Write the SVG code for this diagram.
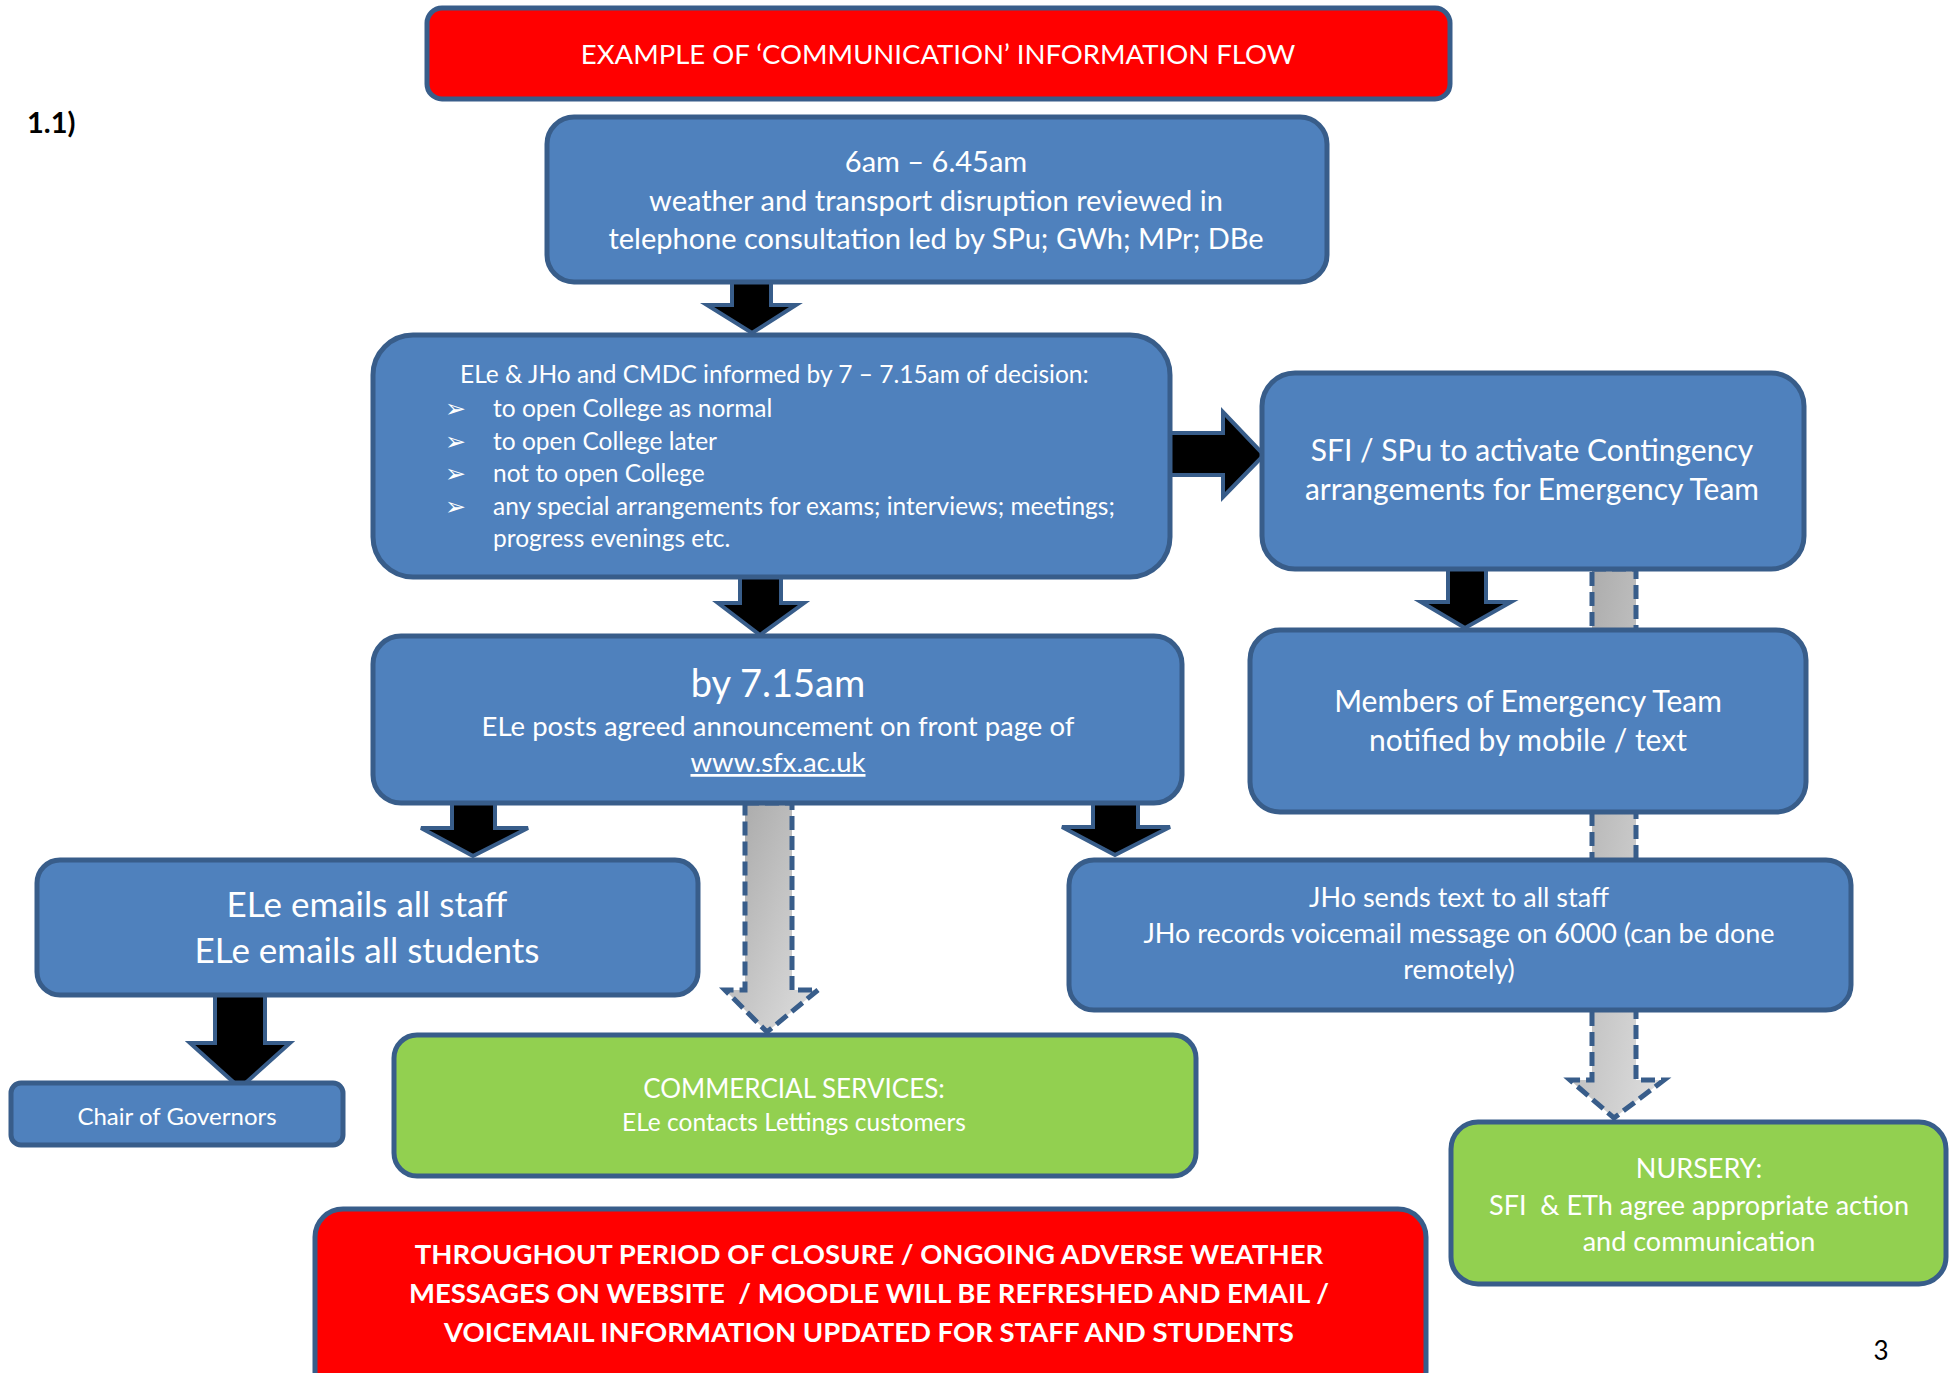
<svg xmlns="http://www.w3.org/2000/svg" width="1951" height="1373" viewBox="0 0 1951 1373">
<defs>
<style>
.box{fill:#4f81bd;stroke:#385d8a;stroke-width:5}
.green{fill:#92d050;stroke:#385d8a;stroke-width:5}
.red{fill:#ff0000;stroke:#385d8a;stroke-width:5}
.arr{fill:#000;stroke:#385d8a;stroke-width:4;stroke-linejoin:miter}
.darr{fill:url(#g);stroke:#385d8a;stroke-width:5;stroke-dasharray:14 6}
text{font-family:Lato,"Liberation Sans",sans-serif;fill:#fff;text-anchor:middle;white-space:pre}
.b{font-weight:bold}
</style>
<linearGradient id="g" x1="0" y1="0" x2="1" y2="1">
<stop offset="0" stop-color="#a6a6a6"/>
<stop offset="1" stop-color="#e0e0e0"/>
</linearGradient>
</defs>
<rect width="1951" height="1373" fill="#fff"/>
<g id="connectors">
<polygon class="darr" points="1592,569 1636,569 1636,1080 1664,1080 1614,1118 1570,1080 1592,1080"/>
<polygon class="darr" points="745,803 792,803 792,990 818,990 767,1032 725,990 745,990"/>
<polygon class="arr" points="732,280 771,280 771,305 796,305 752,333 707,305 732,305"/>
<polygon class="arr" points="1170,433 1223,433 1223,412 1264,455 1223,497 1223,475 1170,475"/>
<polygon class="arr" points="740,577 781,577 781,603 804,603 760,635 718,603 740,603"/>
<polygon class="arr" points="1448,569 1486,569 1486,602 1511,602 1465,628 1421,602 1448,602"/>
<polygon class="arr" points="452,803 495,803 495,828 528,828 473,856 421,828 452,828"/>
<polygon class="arr" points="1093,803 1138,803 1138,827 1170,827 1115,855 1062,827 1093,827"/>
<polygon class="arr" points="215,995 265,995 265,1043 290,1043 240,1088 190,1043 215,1043"/>
</g>
<text x="27" y="133" style="fill:#000;text-anchor:start;font-weight:bold;font-size:29px">1.1)</text>
<g id="title">
<rect class="red" x="427" y="8" width="1023" height="91" rx="15"/>
<text x="938" y="64" style="font-size:27.5px">EXAMPLE OF ‘COMMUNICATION’ INFORMATION FLOW</text>
</g>
<g id="review">
<rect class="box" x="547" y="117" width="780" height="165" rx="27"/>
<text x="936" y="172" style="font-size:29px">6am – 6.45am</text>
<text x="936" y="211" style="font-size:29px">weather and transport disruption reviewed in</text>
<text x="936" y="249" style="font-size:29px">telephone consultation led by SPu; GWh; MPr; DBe</text>
</g>
<g id="decision">
<rect class="box" x="373" y="335" width="797" height="242" rx="40"/>
<g style="font-size:24.5px">
<text x="460" y="383" style="text-anchor:start">ELe &amp; JHo and CMDC informed by 7 – 7.15am of decision:</text>
<text x="445" y="417" style="text-anchor:start">➢</text>
<text x="493" y="417" style="text-anchor:start">to open College as normal</text>
<text x="445" y="450" style="text-anchor:start">➢</text>
<text x="493" y="450" style="text-anchor:start">to open College later</text>
<text x="445" y="482" style="text-anchor:start">➢</text>
<text x="493" y="482" style="text-anchor:start">not to open College</text>
<text x="445" y="515" style="text-anchor:start">➢</text>
<text x="493" y="515" style="text-anchor:start">any special arrangements for exams; interviews; meetings;</text>
<text x="493" y="547" style="text-anchor:start">progress evenings etc.</text>
</g>
</g>
<g id="contingency">
<rect class="box" x="1262" y="373" width="542" height="196" rx="33"/>
<text x="1532" y="461" style="font-size:30px">SFI / SPu to activate Contingency</text>
<text x="1532" y="500" style="font-size:30px">arrangements for Emergency Team</text>
</g>
<g id="website">
<rect class="box" x="373" y="636" width="809" height="167" rx="28"/>
<text x="778" y="697" style="font-size:38px">by 7.15am</text>
<text x="778" y="736" style="font-size:27.5px">ELe posts agreed announcement on front page of</text>
<text x="778" y="772" style="font-size:27.5px;text-decoration:underline">www.sfx.ac.uk</text>
</g>
<g id="emergency">
<rect class="box" x="1250" y="630" width="556" height="182" rx="30"/>
<text x="1528" y="712" style="font-size:30px">Members of Emergency Team</text>
<text x="1528" y="751" style="font-size:30px">notified by mobile / text</text>
</g>
<g id="emails">
<rect class="box" x="37" y="860" width="661" height="135" rx="23"/>
<text x="367" y="917" style="font-size:35px">ELe emails all staff</text>
<text x="367" y="963" style="font-size:35px">ELe emails all students</text>
</g>
<g id="jho">
<rect class="box" x="1069" y="860" width="782" height="150" rx="25"/>
<text x="1459" y="907" style="font-size:27px">JHo sends text to all staff</text>
<text x="1459" y="943" style="font-size:27px">JHo records voicemail message on 6000 (can be done</text>
<text x="1459" y="979" style="font-size:27px">remotely)</text>
</g>
<g id="chair">
<rect class="box" x="11" y="1083" width="332" height="62" rx="10"/>
<text x="177" y="1125" style="font-size:24px">Chair of Governors</text>
</g>
<g id="commercial">
<rect class="green" x="394" y="1035" width="802" height="141" rx="23"/>
<text x="794" y="1098" style="font-size:26px">COMMERCIAL SERVICES:</text>
<text x="794" y="1131" style="font-size:24.5px">ELe contacts Lettings customers</text>
</g>
<g id="nursery">
<rect class="green" x="1451" y="1122" width="495" height="162" rx="27"/>
<text x="1699" y="1178" style="font-size:27px">NURSERY:</text>
<text x="1699" y="1215" style="font-size:27px">SFI  &amp; ETh agree appropriate action</text>
<text x="1699" y="1251" style="font-size:27px">and communication</text>
</g>
<g id="closure">
<rect class="red" x="315" y="1209" width="1111" height="190" rx="28"/>
<text class="b" x="869" y="1264" style="font-size:27.5px">THROUGHOUT PERIOD OF CLOSURE / ONGOING ADVERSE WEATHER</text>
<text class="b" x="869" y="1303" style="font-size:27.5px">MESSAGES ON WEBSITE  / MOODLE WILL BE REFRESHED AND EMAIL /</text>
<text class="b" x="869" y="1342" style="font-size:27.5px">VOICEMAIL INFORMATION UPDATED FOR STAFF AND STUDENTS</text>
</g>
<text x="1881" y="1360" style="fill:#000;font-size:26px">3</text>
</svg>
